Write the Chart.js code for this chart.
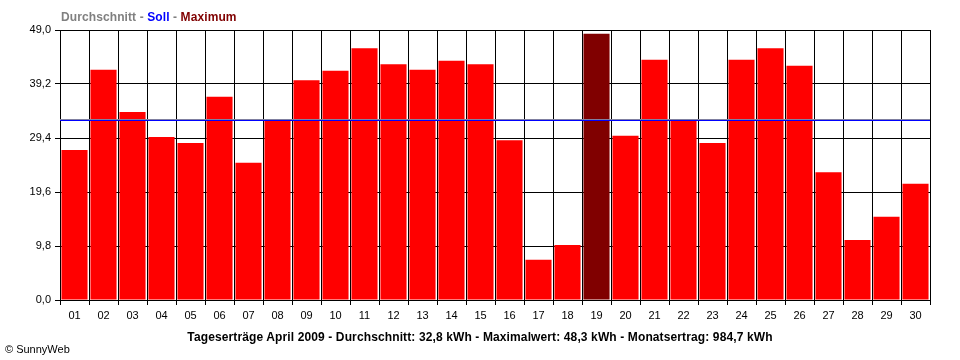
<!DOCTYPE html>
<html>
<head>
<meta charset="utf-8">
<script src="https://cdn.jsdelivr.net/npm/chart.js@4/dist/chart.umd.min.js"></script>
<style>
  html, body { margin: 0; padding: 0; background: #fff; }
  #wrap { position: relative; width: 960px; height: 360px; overflow: hidden; }
  canvas { position: absolute; left: 0; top: 0; }
  .txt { position: absolute; font-family: "Liberation Sans", Arial, sans-serif; font-size: 11px; white-space: nowrap; line-height: 13px; }
  #legend { left: 61px; top: 11px; font-weight: bold; font-size: 12px; letter-spacing: 0.1px; }
  #caption { left: 0; width: 960px; text-align: center; top: 331px; font-weight: bold; color: #000; font-size: 12px; letter-spacing: 0.12px; }
  #copy { left: 5px; top: 343px; color: #000; }
</style>
</head>
<body>
<div id="wrap">
  <canvas id="c" width="960" height="360"></canvas>
  <div id="legend" class="txt"><span style="color:#808080">Durchschnitt</span><span style="color:#808080"> - </span><span style="color:#0000ff">Soll</span><span style="color:#808080"> - </span><span style="color:#800000">Maximum</span></div>
  <div id="caption" class="txt">Tageserträge April 2009 - Durchschnitt: 32,8 kWh - Maximalwert: 48,3 kWh - Monatsertrag: 984,7 kWh</div>
  <div id="copy" class="txt">© SunnyWeb</div>
</div>
<script>
const days = ["01","02","03","04","05","06","07","08","09","10","11","12","13","14","15","16","17","18","19","20","21","22","23","24","25","26","27","28","29","30"];
const yields = [27.2, 41.8, 34.1, 29.6, 28.5, 36.9, 24.9, 32.5, 39.9, 41.6, 45.7, 42.8, 41.8, 43.4, 42.8, 29.0, 7.3, 10.0, 48.3, 29.8, 43.6, 32.6, 28.5, 43.6, 45.7, 42.5, 23.2, 10.9, 15.1, 21.1];
const yTicks = [0, 9.8, 19.6, 29.4, 39.2, 49.0];
const average = [32.8];
const target = [32.6];

const maxVal = Math.max(...yields);
const barColors = yields.map(v => v === maxVal ? '#800000' : '#ff0000');

const refLines = {
  id: 'refLines',
  afterDatasetsDraw(chart) {
    const { ctx, chartArea, scales } = chart;
    const draw = (val, color) => {
      const y = Math.round(scales.y.getPixelForValue(val)) + 0.5;
      ctx.save();
      ctx.strokeStyle = color;
      ctx.lineWidth = 1;
      ctx.beginPath();
      ctx.moveTo(chartArea.left, y);
      ctx.lineTo(chartArea.right, y);
      ctx.stroke();
      ctx.restore();
    };
    draw(average[0], '#8080a0');
    draw(target[0], '#0000ff');
  }
};

Chart.defaults.font.family = '"Liberation Sans", Arial, sans-serif';
Chart.defaults.font.size = 11;
Chart.defaults.color = '#000';

new Chart(document.getElementById('c'), {
  type: 'bar',
  data: {
    labels: days,
    datasets: [{
      data: yields,
      backgroundColor: barColors,
      borderWidth: 0,
      barPercentage: 0.9,
      categoryPercentage: 1.0
    }]
  },
  options: {
    responsive: false,
    animation: false,
    events: [],
    layout: { padding: { top: 30, right: 30, bottom: 40, left: 0 } },
    plugins: { legend: { display: false }, tooltip: { enabled: false }, title: { display: false } },
    scales: {
      x: {
        offset: true,
        grid: { color: '#000', lineWidth: 1, tickLength: 5, offset: true, drawTicks: true },
        border: { color: '#000', width: 1 },
        ticks: { padding: 4, maxRotation: 0, autoSkip: false, color: '#000' },
        afterFit(scale) { scale.height = 20; }
      },
      y: {
        min: 0,
        max: 49,
        afterBuildTicks(scale) { scale.ticks = yTicks.map(v => ({ value: v })); },
        grid: { color: '#000', lineWidth: 1, tickLength: 5, drawTicks: true },
        border: { color: '#000', width: 1 },
        ticks: {
          padding: 4,
          color: '#000',
          callback: (v) => Number(v).toFixed(1).replace('.', ',')
        },
        afterFit(scale) { scale.width = 60; }
      }
    }
  },
  plugins: [refLines]
});
</script>
</body>
</html>
